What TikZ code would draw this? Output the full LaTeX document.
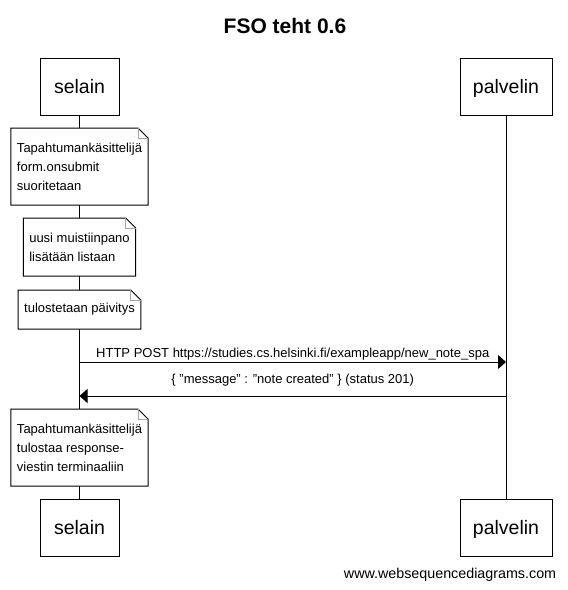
\documentclass[tikz,border=0pt]{standalone}
\usepackage{fontspec}
\setmainfont{Liberation Sans}
\usetikzlibrary{positioning,calc,arrows.meta}

\begin{document}
\begin{tikzpicture}[x=1pt, y=-1pt, line width=1pt,
    actor/.style={draw, minimum height=57pt, inner sep=0pt, outer sep=0pt, text height=14pt, text depth=0pt, font=\fontsize{19.5}{22}\selectfont},
    note/.style={inner xsep=6pt, outer sep=0pt, align=left, font=\fontsize{13}{19}\selectfont},
    msg/.style={-{Triangle[length=8pt,width=14pt]}},
    lbl/.style={inner sep=1pt, text depth=3pt, font=\fontsize{13}{15}\selectfont}]
        \useasboundingbox (0,0) rectangle (568,590);

        \node[font=\fontsize{21}{24}\selectfont\bfseries, anchor=base] (title) at (285,33) {FSO teht 0.6};

        \node[actor, minimum width=79pt] (sTop) at (79.5,86.5) {selain};
        \node[actor, minimum width=92pt] (pTop) at (506,86.5) {palvelin};

        \node[note, minimum height=77pt, below=13pt of sTop] (n1) {Tapahtumankäsittelijä\\form.onsubmit\\suoritetaan};
        \node[note, minimum height=58pt, below=13pt of n1] (n2) {uusi muistiinpano\\lisätään listaan};
        \node[note, minimum height=39pt, below=14pt of n2] (n3) {tulostetaan päivitys};
        \node[note, minimum height=77pt, below=80pt of n3] (n4) {Tapahtumankäsittelijä\\tulostaa response-\\viestin terminaaliin};

        \node[actor, minimum width=79pt, below=13pt of n4] (sBot) {selain};
        \node[actor, minimum width=92pt] (pBot) at (pTop |- sBot) {palvelin};

        % lifelines
        \draw (sTop) -- (n1);
        \draw (n1) -- (n2);
        \draw (n2) -- (n3);
        \draw (n3) -- (n4);
        \draw (n4) -- (sBot);
        \draw (pTop) -- (pBot);

        % notes with folded corner
        \foreach \n in {n1,n2,n3,n4}{
            \draw ($(\n.north east)+(-10pt,0pt)$) -- (\n.north west) -- (\n.south west) -- (\n.south east) -- ($(\n.north east)+(0pt,-10pt)$) -- cycle;
            \draw[gray!70, line width=0.8pt] ($(\n.north east)+(-10pt,0pt)$) |- ($(\n.north east)+(0pt,-10pt)$);
        }

        % messages
        \coordinate (req) at (0,362);
        \coordinate (res) at (0,396);
        \draw[msg] (sTop |- req) -- node[lbl, above] {HTTP POST https://studies.cs.helsinki.fi/exampleapp/new\_note\_spa} (pTop |- req);
        \draw[msg] (pTop |- res) -- node[lbl, above=8.5pt] {\{ "message" : "note created" \} (status 201)} (sTop |- res);

        \node[font=\fontsize{14.3}{16}\selectfont, anchor=base east] (wsd) at (560,578) {www.websequencediagrams.com};
    \end{tikzpicture}
\end{document}
